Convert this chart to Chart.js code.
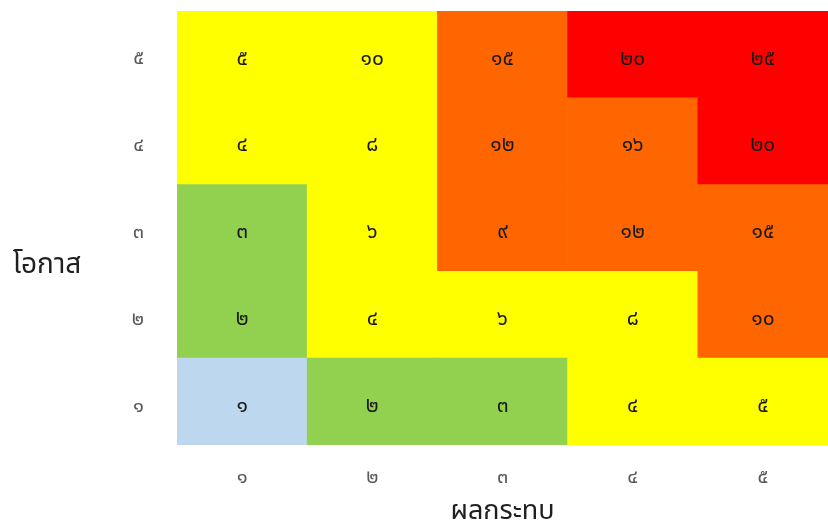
<!DOCTYPE html>
<html lang="th">
<head>
<meta charset="utf-8">
<title>ตารางความเสี่ยง</title>
<script src="https://cdn.jsdelivr.net/npm/chart.js@4.4.1/dist/chart.umd.min.js"></script>
<style>
  html, body { margin: 0; padding: 0; background: #ffffff; }
  #wrap { width: 828px; height: 530px; position: relative; }
</style>
</head>
<body>
<div id="wrap"><canvas id="matrix"></canvas></div>
<script>
// Impact (x) and likelihood (y) levels
const impactLevels = [1, 2, 3, 4, 5];
const likelihoodLevels = [1, 2, 3, 4, 5];

// Risk scores, one row per likelihood level (1 at the bottom)
const scoresL1 = [1, 2, 3, 4, 5];
const scoresL2 = [2, 4, 6, 8, 10];
const scoresL3 = [3, 6, 9, 12, 15];
const scoresL4 = [4, 8, 12, 16, 20];
const scoresL5 = [5, 10, 15, 20, 25];

// Risk band of each cell: 0 very low, 1 low, 2 medium, 3 high, 4 very high
const bandsL1 = [0, 1, 1, 2, 2];
const bandsL2 = [1, 2, 2, 2, 3];
const bandsL3 = [1, 2, 3, 3, 3];
const bandsL4 = [2, 2, 3, 3, 4];
const bandsL5 = [2, 2, 3, 4, 4];

const xTitle = 'ผลกระทบ';
const yTitle = 'โอกาส';

const scoreRows = [scoresL1, scoresL2, scoresL3, scoresL4, scoresL5];
const bandRows = [bandsL1, bandsL2, bandsL3, bandsL4, bandsL5];
const bandColors = ['#BDD7EE', '#92D050', '#FFFF00', '#FF6600', '#FF0000'];

const THAI_FONT = "Tahoma, 'Noto Sans Thai', 'Noto Sans Thai UI', 'Noto Sans', 'DejaVu Sans', sans-serif";
const thaiDigits = n => String(n).replace(/\d/g, d => '๐๑๒๓๔๕๖๗๘๙'[d]);

// One floating-bar dataset per likelihood row; each bar spans its row
const datasets = likelihoodLevels.map((lv, r) => ({
  label: thaiDigits(lv),
  data: impactLevels.map(() => [lv - 0.5, lv + 0.5]),
  scores: scoreRows[r],
  backgroundColor: bandRows[r].map(b => bandColors[b]),
  borderWidth: 0,
  grouped: false,
  barPercentage: 1,
  categoryPercentage: 1
}));

// Writes each cell's score in Thai digits, just below the centre of its bar
const cellLabels = {
  id: 'cellLabels',
  afterDatasetsDraw(chart) {
    const ctx = chart.ctx;
    ctx.save();
    ctx.font = "21px " + THAI_FONT;
    ctx.fillStyle = '#1a1a1a';
    ctx.textAlign = 'center';
    ctx.textBaseline = 'middle';
    chart.data.datasets.forEach((ds, di) => {
      chart.getDatasetMeta(di).data.forEach((bar, i) => {
        const p = bar.getProps(['x', 'y', 'base'], true);
        ctx.fillText(thaiDigits(ds.scores[i]), p.x, (p.y + p.base) / 2 + 6);
      });
    });
    ctx.restore();
  }
};

// Horizontal title beside the likelihood axis
const sideTitle = {
  id: 'sideTitle',
  afterDraw(chart) {
    const ctx = chart.ctx;
    const area = chart.chartArea;
    ctx.save();
    ctx.font = "28px " + THAI_FONT;
    ctx.fillStyle = '#1f1f1f';
    ctx.textAlign = 'center';
    ctx.textBaseline = 'middle';
    ctx.fillText(yTitle, 47, area.top + (area.bottom - area.top) * 0.59);
    ctx.restore();
  }
};

new Chart(document.getElementById('matrix'), {
  type: 'bar',
  data: {
    labels: impactLevels.map(thaiDigits),
    datasets: datasets
  },
  options: {
    responsive: true,
    maintainAspectRatio: false,
    animation: false,
    layout: { padding: { top: 11, right: 0, bottom: 0, left: 0 } },
    plugins: {
      legend: { display: false },
      tooltip: { enabled: false }
    },
    scales: {
      x: {
        type: 'category',
        grid: { display: false, drawTicks: false },
        border: { display: false },
        ticks: {
          padding: 22,
          color: '#595959',
          font: { family: THAI_FONT, size: 20 }
        },
        title: {
          display: true,
          text: xTitle,
          color: '#1f1f1f',
          padding: { top: 11, bottom: 0 },
          font: { family: THAI_FONT, size: 27 }
        },
        afterFit(scale) { scale.height = 85; }
      },
      y: {
        type: 'linear',
        min: 0.5,
        max: 5.5,
        grid: { display: false, drawTicks: false },
        border: { display: false },
        afterBuildTicks(scale) {
          scale.ticks = likelihoodLevels.map(v => ({ value: v }));
        },
        ticks: {
          padding: 33,
          labelOffset: 6,
          color: '#595959',
          font: { family: THAI_FONT, size: 20 },
          callback: v => thaiDigits(v)
        },
        afterFit(scale) {
          scale.width = 177;
          scale.paddingTop = 0;
          scale.paddingBottom = 0;
        }
      }
    }
  },
  plugins: [cellLabels, sideTitle]
});
</script>
</body>
</html>
